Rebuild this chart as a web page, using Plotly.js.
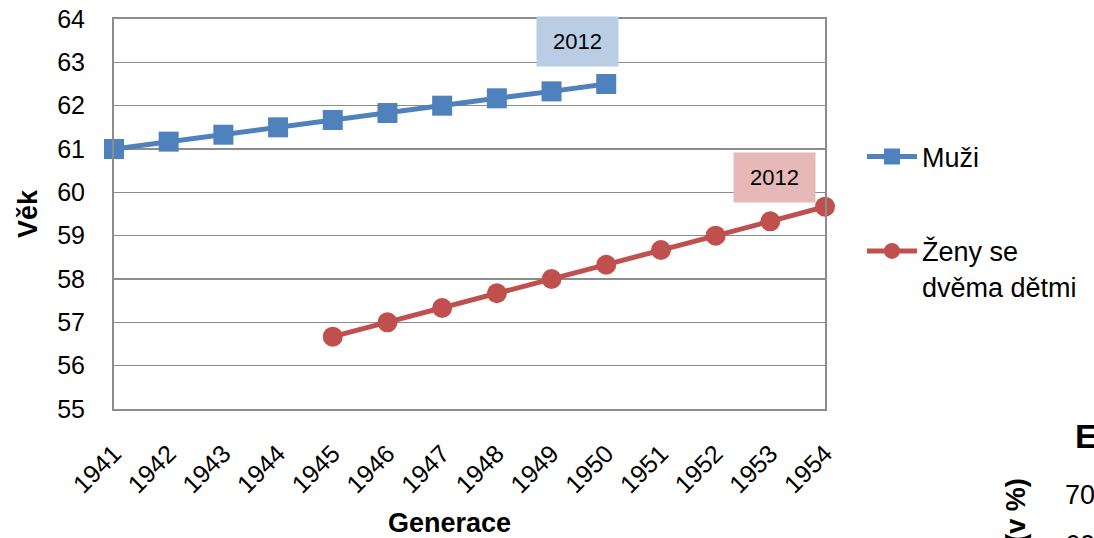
<!DOCTYPE html>
<html>
<head>
<meta charset="utf-8">
<script src="https://cdn.plot.ly/plotly-3.0.1.min.js"></script>
<style>
html,body{margin:0;padding:0;background:#fff;}
#chart{width:1094px;height:538px;}
</style>
</head>
<body>
<div id="chart"></div>
<script>
const yearsAll = [1941,1942,1943,1944,1945,1946,1947,1948,1949,1950,1951,1952,1953,1954];
const yearsMen = [1941,1942,1943,1944,1945,1946,1947,1948,1949,1950];
const menAge = [61.0,61.17,61.33,61.5,61.67,61.83,62.0,62.17,62.33,62.5];
const yearsWomen = [1945,1946,1947,1948,1949,1950,1951,1952,1953,1954];
const womenAge = [56.67,57.0,57.33,57.67,58.0,58.33,58.67,59.0,59.33,59.67];
const seriesNames = ["Muži","Ženy se<br>dvěma dětmi"];
const yTicks = [55,56,57,58,59,60,61,62,63,64];
const labelYear = "2012";
const xTitle = "Generace";
const yTitle = "Věk";

const FONT = "Liberation Sans, Arial, sans-serif";
const GRID = "#8c8c8c";

const traces = [
  {x: yearsMen, y: menAge, name: seriesNames[0], type: "scatter", mode: "lines+markers",
   line: {color: "#4F81BD", width: 5}, marker: {symbol: "square", size: 20, color: "#4F81BD"},
   cliponaxis: false, legend: "legend"},
  {x: yearsWomen, y: womenAge, name: seriesNames[1], type: "scatter", mode: "lines+markers",
   line: {color: "#C0504D", width: 5}, marker: {symbol: "circle", size: 20, color: "#C0504D"},
   cliponaxis: false, legend: "legend2"}
];

const layout = {
  width: 1094, height: 538,
  margin: {l: 114, r: 266, t: 19, b: 129},
  paper_bgcolor: "#fff", plot_bgcolor: "#fff",
  font: {family: FONT, color: "#000", size: 24},
  showlegend: true,
  xaxis: {
    range: [1941, 1954], tickvals: yearsAll, ticktext: yearsAll.map(String),
    tickangle: -45, tickfont: {size: 25, family: FONT},
    showgrid: false, zeroline: false,
    showline: true, mirror: true, linecolor: GRID, linewidth: 2,
    ticks: "outside", ticklen: 18, tickcolor: "rgba(0,0,0,0)",
    automargin: false
  },
  yaxis: {
    range: [55, 64], tickvals: yTicks, ticktext: yTicks.map(String),
    tickfont: {size: 25, family: FONT},
    showgrid: true, gridcolor: GRID, gridwidth: 1.5, zeroline: false,
    showline: true, mirror: true, linecolor: GRID, linewidth: 2,
    ticks: "outside", ticklen: 22, tickcolor: "rgba(0,0,0,0)",
    title: {text: "<b>" + yTitle + "</b>", font: {size: 27, family: FONT}, standoff: 12},
    automargin: false
  },
  legend: {x: 1.052, y: 0.646, xanchor: "left", yanchor: "middle",
           font: {size: 27, family: FONT}, bgcolor: "rgba(0,0,0,0)", itemwidth: 50},
  legend2: {x: 1.052, y: 0.467, xanchor: "left", yanchor: "top", valign: "top",
           font: {size: 27, family: FONT}, bgcolor: "rgba(0,0,0,0)", itemwidth: 50},
  annotations: [
    {x: 0.472, y: -0.292, xref: "paper", yref: "paper", xanchor: "center", yanchor: "middle",
     text: "<b>" + xTitle + "</b>", showarrow: false, borderpad: 0, font: {size: 27, family: FONT}},
    {x: 1949.48, y: 63.47, xref: "x", yref: "y", text: labelYear, showarrow: false,
     bgcolor: "#B9CDE5", width: 81, height: 49, borderpad: 0,
     font: {size: 22, family: FONT, color: "#000"}},
    {x: 1953.08, y: 60.34, xref: "x", yref: "y", text: labelYear, showarrow: false,
     bgcolor: "#E6B9B8", width: 81, height: 49, borderpad: 0,
     font: {size: 22, family: FONT, color: "#000"}},
    {x: 1.35, y: -0.069, xref: "paper", yref: "paper", xanchor: "left", yanchor: "middle",
     text: "<b>E</b>", showarrow: false, borderpad: 0, font: {size: 34, family: FONT}},
    {x: 1.336, y: -0.2205, xref: "paper", yref: "paper", xanchor: "left", yanchor: "middle",
     text: "70", showarrow: false, borderpad: 0, font: {size: 27, family: FONT}},
    {x: 1.336, y: -0.349, xref: "paper", yref: "paper", xanchor: "left", yanchor: "middle",
     text: "60", showarrow: false, borderpad: 0, font: {size: 27, family: FONT}},
    {x: 1.269, y: -0.26, xref: "paper", yref: "paper", xanchor: "center", yanchor: "middle",
     text: "<b>(v %)</b>", textangle: -90, showarrow: false, borderpad: 0, font: {size: 27, family: FONT}}
  ]
};

Plotly.newPlot("chart", traces, layout, {displayModeBar: false, staticPlot: true});
</script>
</body>
</html>
